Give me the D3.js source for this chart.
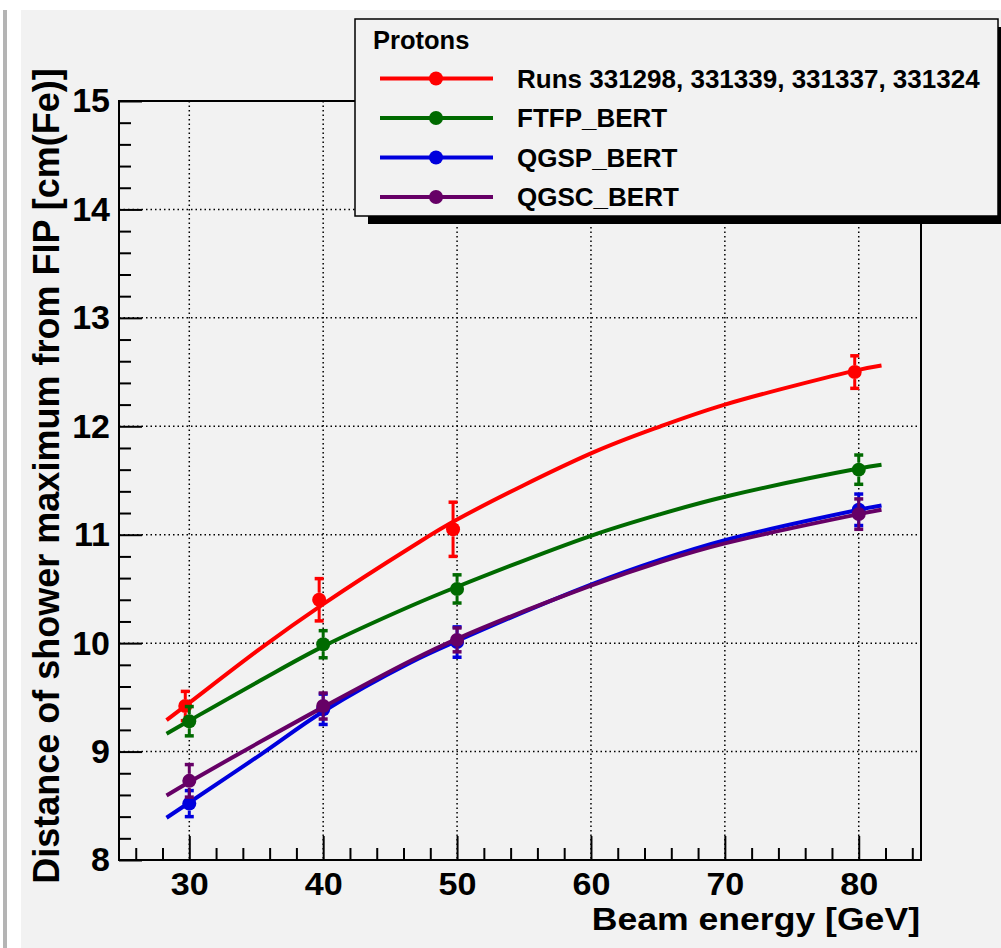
<!DOCTYPE html>
<html>
<head>
<meta charset="utf-8">
<script src="https://cdn.jsdelivr.net/npm/d3@7"></script>
<style>
  body { margin: 0; background: #ffffff; }
  svg { display: block; }
  text { font-family: "Liberation Sans", Arial, sans-serif; font-weight: bold; fill: #000; }
</style>
</head>
<body>
<svg id="chart" width="1001" height="948"></svg>
<script>
// Measured shower-maximum positions (cm of Fe from the first interaction point)
const mcEnergies   = [30, 40, 50, 80];
const dataEnergies = [29.7, 39.7, 49.7, 79.7];

const runsValues = [9.42, 10.40, 11.05, 12.50];
const runsErrors = [0.135, 0.195, 0.25, 0.15];
const ftfpValues = [9.28, 9.99, 10.50, 11.60];
const ftfpErrors = [0.135, 0.125, 0.13, 0.135];
const qgspValues = [8.52, 9.39, 10.01, 11.23];
const qgspErrors = [0.12, 0.14, 0.14, 0.145];
const qgscValues = [8.73, 9.42, 10.03, 11.19];
const qgscErrors = [0.15, 0.12, 0.11, 0.14];

// Fitted curves, sampled along the beam-energy range
const fitEnergies = [28.3, 30, 35.3, 40, 46.5, 50, 60, 65.2, 70, 80, 81.7];
const runsFit = [9.29, 9.45, 9.95, 10.36, 10.88, 11.14, 11.75, 12.00, 12.20, 12.52, 12.56];
const ftfpFit = [9.165, 9.285, 9.655, 9.97, 10.34, 10.52, 10.99, 11.19, 11.35, 11.61, 11.645];
const qgspFit = [8.39, 8.53, 8.97, 9.37, 9.82, 10.02, 10.54, 10.77, 10.95, 11.23, 11.27];
const qgscFit = [8.595, 8.72, 9.09, 9.41, 9.835, 10.04, 10.53, 10.75, 10.92, 11.19, 11.23];

const xMajorTicks = [30, 40, 50, 60, 70, 80];
const xMinorTicks = [26, 28, 32, 34, 36, 38, 42, 44, 46, 48, 52, 54, 56, 58, 62, 64, 66, 68, 72, 74, 76, 78, 82, 84];
const yMajorTicks = [8, 9, 10, 11, 12, 13, 14, 15];
const yMinorTicks = [8.2, 8.4, 8.6, 8.8, 9.2, 9.4, 9.6, 9.8, 10.2, 10.4, 10.6, 10.8,
                     11.2, 11.4, 11.6, 11.8, 12.2, 12.4, 12.6, 12.8, 13.2, 13.4, 13.6, 13.8,
                     14.2, 14.4, 14.6, 14.8];

const legendTitle = "Protons";
const seriesNames = ["Runs 331298, 331339, 331337, 331324", "FTFP_BERT", "QGSP_BERT", "QGSC_BERT"];
const seriesColors = ["#ff0000", "#006a00", "#0000dd", "#660066"];
const xTitle = "Beam energy [GeV]";
const yTitle = "Distance of shower maximum from FIP [cm(Fe)]";

const series = [
  { name: seriesNames[0], color: seriesColors[0], xs: dataEnergies, ys: runsValues, es: runsErrors, fit: runsFit },
  { name: seriesNames[1], color: seriesColors[1], xs: mcEnergies,   ys: ftfpValues, es: ftfpErrors, fit: ftfpFit },
  { name: seriesNames[2], color: seriesColors[2], xs: mcEnergies,   ys: qgspValues, es: qgspErrors, fit: qgspFit },
  { name: seriesNames[3], color: seriesColors[3], xs: mcEnergies,   ys: qgscValues, es: qgscErrors, fit: qgscFit }
];

const svg = d3.select("#chart");
const W = 1001, H = 948;
const frame = { left: 119, right: 921, top: 101, bottom: 860 };

// Pad background
svg.append("rect").attr("width", W).attr("height", H).attr("fill", "#ffffff");
svg.append("rect").attr("x", 21).attr("y", 10).attr("width", W - 21).attr("height", H - 10).attr("fill", "#f2f2f2");
svg.append("rect").attr("x", 3).attr("y", 10).attr("width", 4).attr("height", H - 10).attr("fill", "#b4b4b4");

const x = d3.scaleLinear().domain([24.75, 84.65]).range([frame.left, frame.right]);
const y = d3.scaleLinear().domain([8, 15]).range([frame.bottom, frame.top]);

// Dotted grid
const grid = svg.append("g").attr("stroke", "#000").attr("stroke-width", 1.5).attr("stroke-dasharray", "1.5 3");
grid.selectAll("line.gx").data(xMajorTicks).join("line")
  .attr("x1", d => x(d)).attr("x2", d => x(d))
  .attr("y1", frame.top).attr("y2", frame.bottom);
grid.selectAll("line.gy").data(yMajorTicks.filter(d => d > 8 && d < 15)).join("line")
  .attr("x1", frame.left).attr("x2", frame.right)
  .attr("y1", d => y(d)).attr("y2", d => y(d));

// Axes (ticks pointing into the frame)
function styleAxis(g, fontSize, stretch) {
  g.select(".domain").remove();
  g.selectAll(".tick line").attr("stroke", "#000").attr("stroke-width", 2);
  g.selectAll(".tick text").attr("font-size", fontSize).style("font-weight", "bold")
    .attr("fill", "#000").attr("font-family", "Liberation Sans, Arial, sans-serif")
    .attr("transform", `scale(${stretch},1)`);
}

const xMinorAxis = svg.append("g").attr("transform", `translate(0,${frame.bottom})`)
  .call(d3.axisBottom(x).tickValues(xMinorTicks).tickSize(-12).tickFormat(""));
styleAxis(xMinorAxis, 31, 1);
const xAxis = svg.append("g").attr("transform", `translate(0,${frame.bottom})`)
  .call(d3.axisBottom(x).tickValues(xMajorTicks).tickSize(-24).tickPadding(13).tickFormat(d3.format("d")));
styleAxis(xAxis, 31, 1.1);

const yMinorAxis = svg.append("g").attr("transform", `translate(${frame.left},0)`)
  .call(d3.axisLeft(y).tickValues(yMinorTicks).tickSize(-12).tickFormat(""));
styleAxis(yMinorAxis, 34, 1);
const yAxis = svg.append("g").attr("transform", `translate(${frame.left},0)`)
  .call(d3.axisLeft(y).tickValues(yMajorTicks).tickSize(-23).tickPadding(9).tickFormat(d3.format("d")));
styleAxis(yAxis, 34, 1);

// Frame
svg.append("rect")
  .attr("x", frame.left).attr("y", frame.top)
  .attr("width", frame.right - frame.left).attr("height", frame.bottom - frame.top)
  .attr("fill", "none").attr("stroke", "#000").attr("stroke-width", 2);

// Axis titles
svg.append("text").attr("transform", "translate(920,930) scale(1.13,1)").attr("text-anchor", "end")
  .attr("font-size", 31.5).text(xTitle);
svg.append("text").attr("transform", "translate(59,476) rotate(-90)").attr("text-anchor", "middle")
  .attr("font-size", 36).text(yTitle);

// Series: fit curve, error bars, markers
const line = d3.line().x(d => x(d[0])).y(d => y(d[1])).curve(d3.curveCatmullRom.alpha(0.5));
const markerR = 7;
const capHalf = 4.5;

series.forEach(s => {
  const g = svg.append("g");
  const pts = s.xs.map((e, i) => ({ e, v: s.ys[i], err: s.es[i] }));

  g.append("path")
    .attr("d", line(fitEnergies.map((e, i) => [e, s.fit[i]])))
    .attr("fill", "none").attr("stroke", s.color).attr("stroke-width", 4);

  pts.forEach(p => {
    const cx = x(p.e), cy = y(p.v);
    const top = y(p.v + p.err), bot = y(p.v - p.err);
    if (cy - top > markerR) {
      g.append("line").attr("x1", cx).attr("x2", cx).attr("y1", cy - markerR).attr("y2", top)
        .attr("stroke", s.color).attr("stroke-width", 3);
      g.append("line").attr("x1", cx).attr("x2", cx).attr("y1", cy + markerR).attr("y2", bot)
        .attr("stroke", s.color).attr("stroke-width", 3);
    }
    g.append("line").attr("x1", cx - capHalf).attr("x2", cx + capHalf).attr("y1", top).attr("y2", top)
      .attr("stroke", s.color).attr("stroke-width", 3.5);
    g.append("line").attr("x1", cx - capHalf).attr("x2", cx + capHalf).attr("y1", bot).attr("y2", bot)
      .attr("stroke", s.color).attr("stroke-width", 3.5);
    g.append("circle").attr("cx", cx).attr("cy", cy).attr("r", markerR).attr("fill", s.color);
  });
});

// Legend with drop shadow
const leg = { x: 355, y: 19, w: 643, h: 197 };
svg.append("rect").attr("x", leg.x + 13).attr("y", leg.y + 8).attr("width", leg.w).attr("height", leg.h).attr("fill", "#000");
svg.append("rect").attr("x", leg.x).attr("y", leg.y).attr("width", leg.w).attr("height", leg.h)
  .attr("fill", "#f2f2f2").attr("stroke", "#000").attr("stroke-width", 1.5);
svg.append("text").attr("x", 373).attr("y", 49).attr("font-size", 25.5).text(legendTitle);

series.forEach((s, i) => {
  const cy = 78.5 + i * 39.5;
  svg.append("line").attr("x1", 380).attr("x2", 493).attr("y1", cy).attr("y2", cy)
    .attr("stroke", s.color).attr("stroke-width", 4);
  svg.append("circle").attr("cx", 436).attr("cy", cy).attr("r", markerR).attr("fill", s.color);
  svg.append("text").attr("x", 517).attr("y", cy + 9).attr("font-size", 26).text(s.name);
});
</script>
</body>
</html>
